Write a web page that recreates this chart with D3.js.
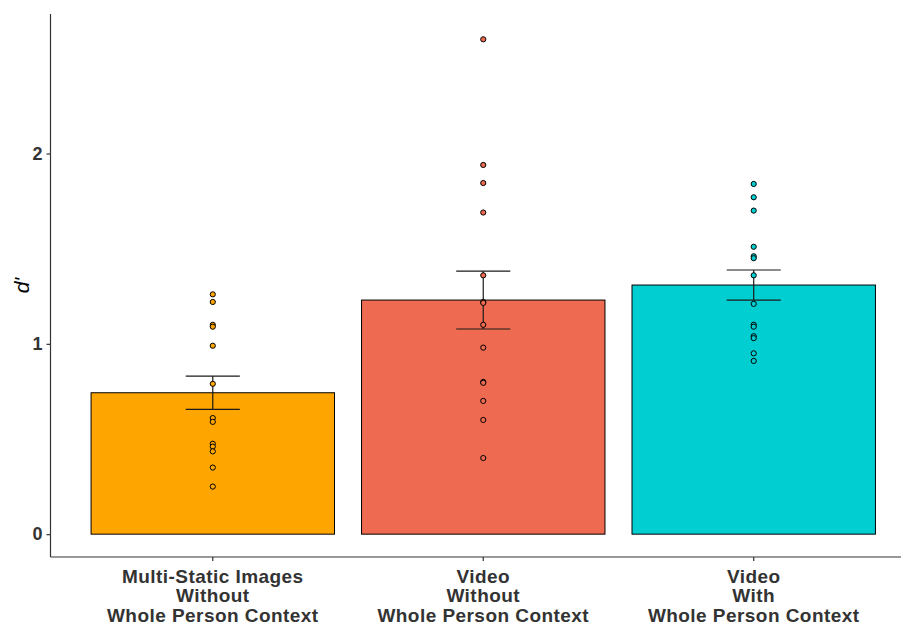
<!DOCTYPE html>
<html>
<head>
<meta charset="utf-8">
<script src="https://cdn.jsdelivr.net/npm/d3@7"></script>
<style>
  html, body { margin: 0; padding: 0; background: #fff; }
  svg { display: block; }
  text { font-family: "Liberation Sans", Arial, sans-serif; }
</style>
</head>
<body>
<div id="chart"></div>
<script>
// Condition labels (one entry per line of the axis label)
const conditions = ["static", "videoWithout", "videoWith"];
const conditionLabels = [
  ["Multi-Static Images", "Without", "Whole Person Context"],
  ["Video", "Without", "Whole Person Context"],
  ["Video", "With", "Whole Person Context"]
];
const barColors = ["#FFA500", "#EE6A50", "#00CED1"];

// Mean d' per condition and its standard error
const meanDPrime = [0.743, 1.230, 1.309];
const seDPrime = [0.087, 0.152, 0.079];

// Individual participant d' scores
const staticScores = [1.26, 1.22, 1.10, 1.09, 0.99, 0.79, 0.61, 0.59, 0.475, 0.46, 0.435, 0.35, 0.25];
const videoWithoutScores = [2.60, 1.94, 1.845, 1.69, 1.36, 1.22, 1.215, 1.10, 0.98, 0.80, 0.795, 0.70, 0.60, 0.40];
const videoWithScores = [1.84, 1.77, 1.70, 1.51, 1.46, 1.45, 1.36, 1.21, 1.10, 1.09, 1.04, 1.03, 0.95, 0.91];
const participantScores = [staticScores, videoWithoutScores, videoWithScores];

const yTicks = [0, 1, 2];
const yTitle = "d'";

const W = 901, H = 626;
const svg = d3.select("#chart").append("svg")
  .attr("width", W).attr("height", H);

const panel = { left: 50.5, right: 916, top: 14, bottom: 557 };

const x = d3.scaleBand()
  .domain(conditions)
  .range([panel.left, panel.right])
  .paddingInner(0.1)
  .paddingOuter(0.15);

const y = d3.scaleLinear()
  .domain([-0.12, 2.733])
  .range([panel.bottom, panel.top]);

const errW = x.step() * 0.2;

// Bars
svg.append("g").selectAll("rect")
  .data(conditions)
  .join("rect")
  .attr("x", d => x(d))
  .attr("width", x.bandwidth())
  .attr("y", (d, i) => y(meanDPrime[i]))
  .attr("height", (d, i) => y(0) - y(meanDPrime[i]))
  .attr("fill", (d, i) => barColors[i])
  .attr("stroke", "#000")
  .attr("stroke-width", 1);

// Error bars (mean ± SE)
const eb = svg.append("g").attr("stroke", "#1a1a1a").attr("stroke-width", 1.2).attr("fill", "none");
conditions.forEach((c, i) => {
  const cx = x(c) + x.bandwidth() / 2;
  const lo = y(meanDPrime[i] - seDPrime[i]);
  const hi = y(meanDPrime[i] + seDPrime[i]);
  eb.append("line").attr("x1", cx).attr("x2", cx).attr("y1", lo).attr("y2", hi);
  eb.append("line").attr("x1", cx - errW / 2).attr("x2", cx + errW / 2).attr("y1", lo).attr("y2", lo);
  eb.append("line").attr("x1", cx - errW / 2).attr("x2", cx + errW / 2).attr("y1", hi).attr("y2", hi);
});

// Participant points
const pts = svg.append("g");
conditions.forEach((c, i) => {
  const cx = x(c) + x.bandwidth() / 2;
  pts.selectAll(null)
    .data(participantScores[i])
    .join("circle")
    .attr("cx", cx)
    .attr("cy", d => y(d))
    .attr("r", 2.6)
    .attr("fill", barColors[i])
    .attr("stroke", "#000")
    .attr("stroke-width", 1);
});

// Axes
const axisColor = "#333333";
const yAxis = svg.append("g")
  .attr("transform", `translate(${panel.left},0)`)
  .call(d3.axisLeft(y).tickValues(yTicks).tickFormat(d3.format("d")).tickSize(4).tickPadding(4));
yAxis.select(".domain").attr("d", `M0,${panel.top}V${panel.bottom}`);

const xAxis = svg.append("g")
  .attr("transform", `translate(0,${panel.bottom})`)
  .call(d3.axisBottom(x).tickSize(4).tickFormat(""));
xAxis.select(".domain").attr("d", `M${panel.left},0H${panel.right}`);

[yAxis, xAxis].forEach(a => {
  a.select(".domain").attr("stroke", axisColor).attr("stroke-width", 1.2);
  a.selectAll(".tick line").attr("stroke", axisColor).attr("stroke-width", 1.2);
});
yAxis.selectAll(".tick text")
  .attr("font-size", 18).attr("font-weight", "bold").attr("fill", axisColor)
  .attr("font-family", "Liberation Sans, Arial, sans-serif");

// Multi-line category labels
const lbl = svg.append("g")
  .attr("font-size", 19).attr("font-weight", "bold").attr("fill", axisColor)
  .attr("letter-spacing", 0.45)
  .attr("text-anchor", "middle");
conditions.forEach((c, i) => {
  const t = lbl.append("text").attr("x", x(c) + x.bandwidth() / 2).attr("y", 582.5);
  conditionLabels[i].forEach((line, k) => {
    t.append("tspan").attr("x", x(c) + x.bandwidth() / 2).attr("dy", k === 0 ? 0 : 19.5).text(line);
  });
});

// Y title
svg.append("text")
  .attr("transform", `translate(29,${(panel.top + panel.bottom) / 2}) rotate(-90)`)
  .attr("text-anchor", "middle")
  .attr("font-size", 21).attr("font-style", "italic").attr("fill", "#000")
  .text(yTitle);
</script>
</body>
</html>
